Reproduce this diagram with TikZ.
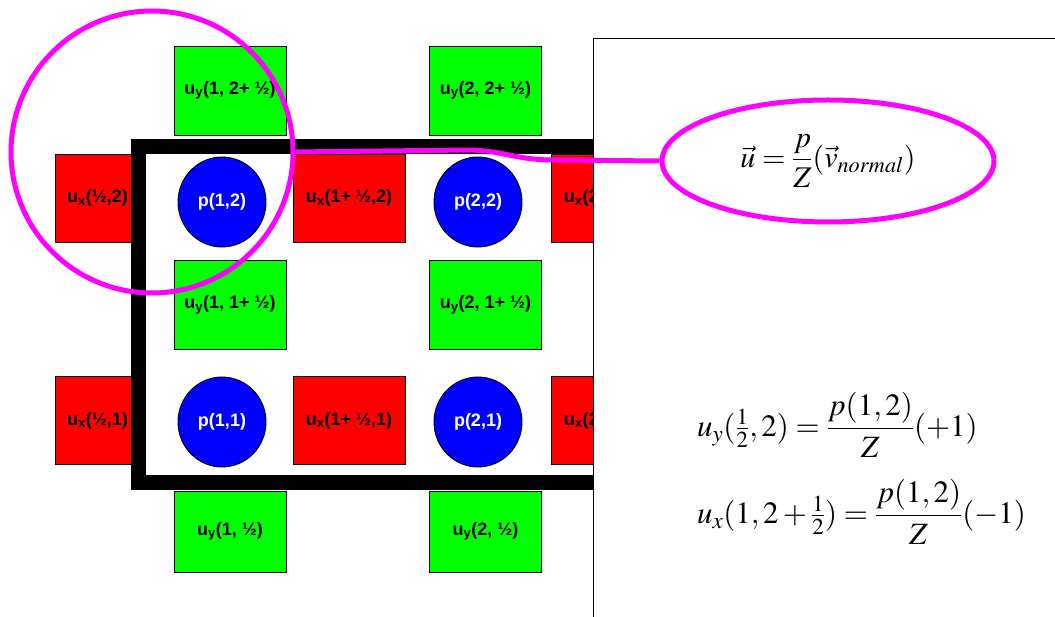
\documentclass[tikz,border=0pt]{standalone}
\usepackage{amsmath}
\usepackage{mathptmx}
\usepackage{fontspec}
\setmainfont{Liberation Serif}
\newfontfamily\labfont{Liberation Sans}
\usetikzlibrary{shapes.geometric}
\definecolor{gfill}{RGB}{0,255,0}
\definecolor{rfill}{RGB}{255,0,0}
\definecolor{bfill}{RGB}{0,0,255}
\definecolor{mag}{RGB}{255,0,255}
\newcommand\lowidx[1]{\textsubscript{#1}}
\begin{document}
\begin{tikzpicture}[x=1pt,y=-1pt,
  lbl/.style={font=\labfont\bfseries\fontsize{18}{20}\selectfont, inner sep=0pt},
  gbox/.style={lbl, draw=black, line width=0.9pt, fill=gfill, minimum width=112pt, minimum height=89pt},
  rbox/.style={lbl, draw=black, line width=0.9pt, fill=rfill, minimum width=112pt, minimum height=88pt},
  pcirc/.style={lbl, ellipse, draw=black, line width=0.9pt, fill=bfill, text=white, minimum width=88pt, minimum height=90pt},
  magline/.style={draw=mag, line width=5pt},
  eqn/.style={anchor=west, inner sep=0pt, font=\fontsize{31}{36}\selectfont}
]
\useasboundingbox (0,0) rectangle (1055,617);
% green boxes (u_y)
\node[gbox] (gy12) at (230,90.5) {u\lowidx{y}(1, 2+ ½)};
\node[gbox] (gy22) at (485.5,90.5) {u\lowidx{y}(2, 2+ ½)};
\node[gbox] (gy11) at (230,305) {u\lowidx{y}(1, 1+ ½)};
\node[gbox] (gy21) at (485.5,305) {u\lowidx{y}(2, 1+ ½)};
\node[gbox, minimum height=81pt] (gy10) at (230,531.5) {u\lowidx{y}(1, ½)};
\node[gbox, minimum height=81pt] (gy20) at (485.5,531.5) {u\lowidx{y}(2, ½)};
% red boxes (u_x)
\node[rbox, minimum width=85pt] (rx02) at (97.5,198) {u\lowidx{x}(½,2)};
\node[rbox] (rx12) at (349,198) {u\lowidx{x}(1+ ½,2)};
\node[rbox] (rx22) at (607,198) {u\lowidx{x}(2+ ½,2)};
\node[rbox, minimum width=85pt] (rx01) at (97.5,420.5) {u\lowidx{x}(½,1)};
\node[rbox] (rx11) at (349,420.5) {u\lowidx{x}(1+ ½,1)};
\node[rbox] (rx21) at (607,420.5) {u\lowidx{x}(2+ ½,1)};
% pressure cells
\node[pcirc] (p12) at (222,202) {p(1,2)};
\node[pcirc] (p22) at (478,202) {p(2,2)};
\node[pcirc] (p11) at (222,422) {p(1,1)};
\node[pcirc] (p21) at (478,422) {p(2,1)};
% thick boundary frame
\draw[line width=15pt] (138.5,147) rectangle (660,482.5);
% right panel
\draw[line width=1.2pt, fill=white] (593.5,38.5) rectangle (1080,640);
% magenta highlight
\node[circle, draw=mag, line width=5pt, minimum size=282pt, inner sep=0pt] (ring) at (152,152) {};
\node[ellipse, draw=mag, line width=5pt, minimum width=332pt, minimum height=122pt, inner sep=0pt,
      font=\fontsize{30}{34}\selectfont] (ell) at (828,161) {$\vec{u}=\dfrac{p}{Z}(\vec{v}_{normal})$};
\draw[magline] (ring.east) -- (470,150) .. controls (505,151) and (515,160) .. (555,160) -- (ell.west);
% equations
\node[eqn] (eq1) at (697,425) {$u_y(\tfrac{1}{2},2)=\dfrac{p(1,2)}{Z}(+1)$};
\node[eqn] (eq2) at (697,512) {$u_x(1,2+\tfrac{1}{2})=\dfrac{p(1,2)}{Z}(-1)$};
\end{tikzpicture}
\end{document}
